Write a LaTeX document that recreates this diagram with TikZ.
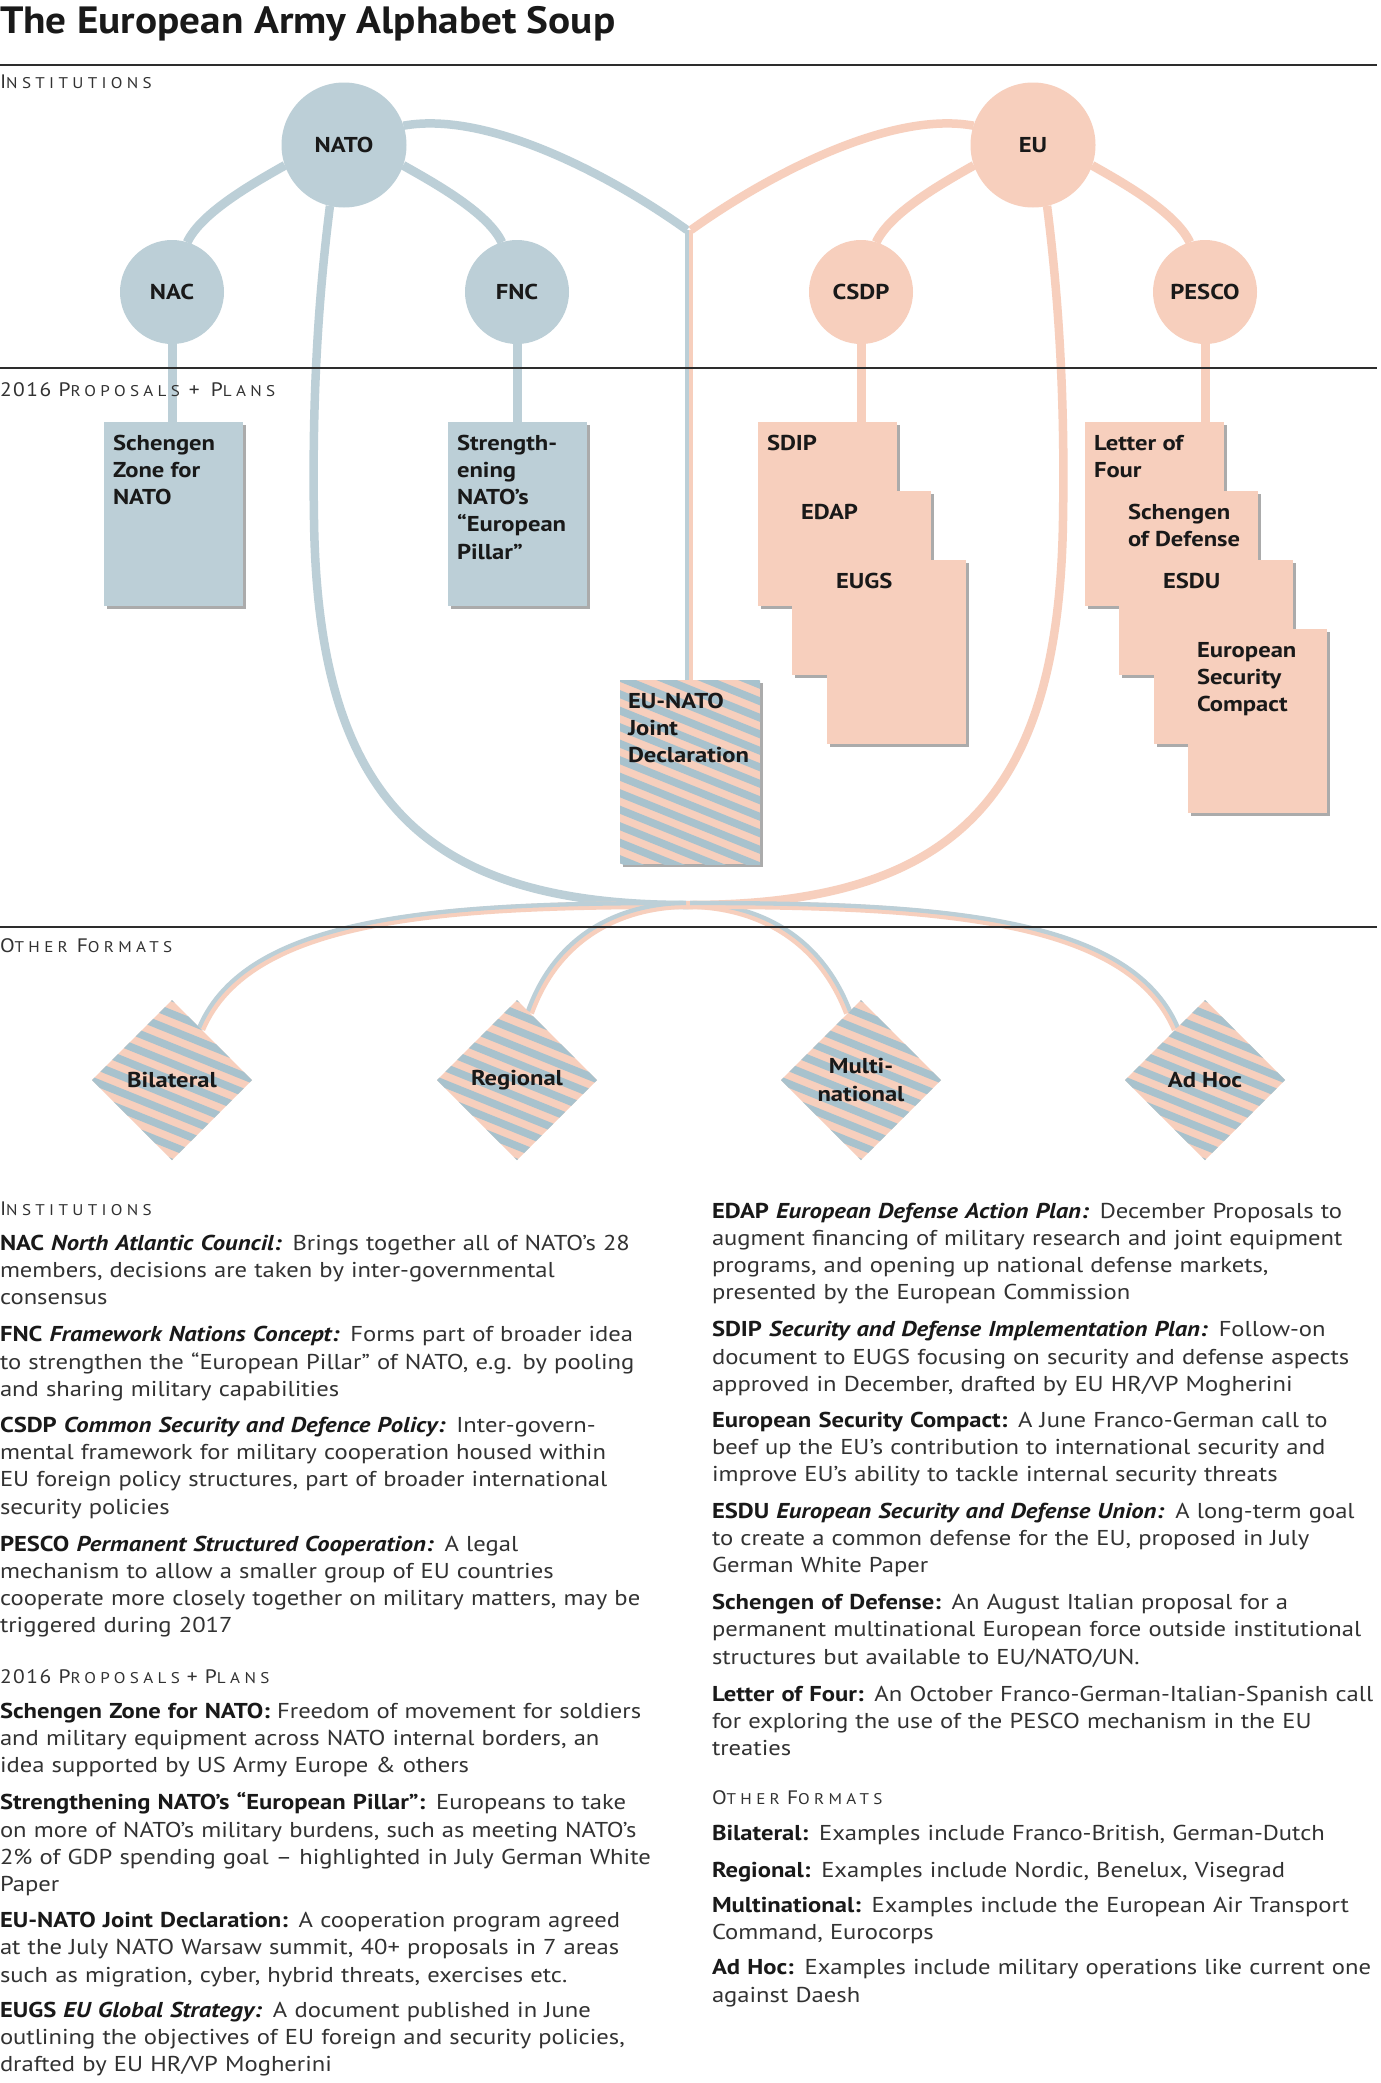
\documentclass[tikz,border=0pt]{standalone}
\usepackage{fontspec}
\setmainfont{PT Sans}[FakeStretch=1.145]
\newfontfamily\titlefont{PT Sans}[FakeStretch=1.085]
\newfontfamily\scfont{PT Sans}[FakeStretch=1.1,LetterSpace=28]
\newfontfamily\digfont{PT Sans}[FakeStretch=1.1,LetterSpace=8]
\usetikzlibrary{shapes.geometric,calc,shadows}
\definecolor{bluec}{RGB}{188,207,215}
\definecolor{stripec}{RGB}{168,194,205}
\definecolor{pinkc}{RGB}{247,207,189}
\definecolor{txtc}{RGB}{50,50,50}
\definecolor{inkc}{RGB}{25,25,25}
\definecolor{rulec}{RGB}{45,45,45}
\pgfdeclarelayer{bg}
\pgfsetlayers{bg,main}
\newcommand\bodyfont{\fontsize{21.5}{27.2}\selectfont}
\newcommand\bigsc{\fontsize{19.5}{19.5}\selectfont}
\newcommand\smsc{\fontsize{15.5}{15.5}\selectfont}
\newcommand\HInst{{\scfont\bigsc I\smsc NSTITUTIONS}}
\newcommand\HProp{{{\digfont\bigsc 2016 }{\scfont\bigsc P\smsc ROPOSALS \bigsc + P\smsc LANS}}}
\newcommand\HOther{{\scfont\bigsc O\smsc THER \bigsc F\smsc ORMATS}}
\newcommand\term[1]{{\color{inkc}\bfseries #1}}
\tikzset{
 bnode/.style={circle,fill=bluec,minimum size=104pt,font=\bodyfont\bfseries,text=inkc},
 pnode/.style={circle,fill=pinkc,minimum size=104pt,font=\bodyfont\bfseries,text=inkc},
 bignode/.style={minimum size=125pt},
 docbox/.style={rectangle,minimum width=139pt,minimum height=184pt,anchor=north west,
   drop shadow={shadow xshift=3pt,shadow yshift=-3pt,fill=black!60,opacity=0.55}},
 docb/.style={docbox,fill=bluec},
 docp/.style={docbox,fill=pinkc},
 doctext/.style={anchor=north west,align=left,font=\bodyfont\bfseries,text=inkc,xshift=9pt,yshift=-13pt},
 stripefill/.style={path picture={\foreach \k in {-16,...,16}{\draw[stripec,line width=7.6pt] ($(path picture bounding box.center)+(-130,\k*16.5-52.5)$) -- ++(260,105);}}},
 dmd/.style={diamond,aspect=1,minimum width=160pt,minimum height=160pt,fill=pinkc,stripefill,align=center,font=\bodyfont\bfseries,text=inkc},
 blline/.style={draw=bluec,line width=9pt},
 pkline/.style={draw=pinkc,line width=9pt},
 blloop/.style={draw=bluec,line width=8.5pt},
 pkloop/.style={draw=pinkc,line width=8.5pt},
 bthin/.style={draw=bluec,line width=4.3pt},
 pthin/.style={draw=pinkc,line width=4.3pt},
 hrule/.style={draw=rulec,line width=2.2pt},
 secl/.style={anchor=base west,text=txtc},
 colt/.style={anchor=base west,text width=700pt,align=left,font=\bodyfont,text=txtc},
}
\begin{document}
\begin{tikzpicture}[x=1pt,y=-1pt,every node/.style={inner sep=0pt,outer sep=0pt}]
\useasboundingbox (0,0) rectangle (1381,2083);

% title and section labels
\node[anchor=base west,font=\titlefont\fontsize{38}{40}\selectfont\bfseries,text=inkc] (title) at (0,33) {The European Army Alphabet Soup};
\node[secl] (sInst) at (0,88) {\HInst};
\node[secl] (sProp) at (0,396) {\HProp};
\node[secl] (sOther) at (0,952) {\HOther};

% institutions
\node[bnode,bignode] (nato) at (344,145) {NATO};
\node[pnode,bignode] (eu) at (1033,145) {EU};
\node[bnode] (nac) at (172,292) {NAC};
\node[bnode] (fnc) at (517,292) {FNC};
\node[pnode] (csdp) at (861,292) {CSDP};
\node[pnode] (pesco) at (1205,292) {PESCO};

% proposals
\node[docb,label={[doctext]north west:{Schengen\\Zone for\\NATO}}] (szn) at (104,422) {};
\node[docb,label={[doctext]north west:{Strength-\\ening\\NATO’s\\“European\\Pillar”}}] (snep) at (448,422) {};
\node[docp,label={[doctext]north west:{SDIP}}] (sdip) at (758,422) {};
\node[docp,label={[doctext]north west:{EDAP}}] (edap) at (792,491) {};
\node[docp,label={[doctext]north west:{EUGS}}] (eugs) at (827,560) {};
\node[docp,label={[doctext]north west:{Letter of\\Four}}] (lof) at (1085,422) {};
\node[docp,label={[doctext]north west:{Schengen\\of Defense}}] (sod) at (1119,491) {};
\node[docp,label={[doctext]north west:{ESDU}}] (esdu) at (1154,560) {};
\node[docp,label={[doctext]north west:{European\\Security\\Compact}}] (esc) at (1188,629) {};
\node[docbox,minimum width=140pt,fill=pinkc,stripefill,label={[doctext,xshift=-1pt]north west:{EU-NATO\\Joint\\Declaration}}] (eunato) at (620,680) {};

% other formats
\node[dmd] (bil) at (172,1080) {Bilateral};
\node[dmd] (reg) at (517,1080) {Regional};
\node[dmd] (mul) at (861,1080) {Multi-\\national};
\node[dmd] (adh) at (1205,1080) {Ad Hoc};

\coordinate (J) at (688,905);
\coordinate (tb) at (687,230);
\coordinate (tp) at (691,230);

\begin{pgfonlayer}{bg}
\fill[white] (0,0) rectangle (1381,2083);
% tree arcs
\draw[blline] (nato.199) .. controls +(-30,17) and +(14,-30) .. (nac.73);
\draw[blline] (nato.341) .. controls +(30,17) and +(-14,-30) .. (fnc.107);
\draw[pkline] (eu.199) .. controls +(-30,17) and +(14,-30) .. (csdp.73);
\draw[pkline] (eu.341) .. controls +(30,17) and +(-14,-30) .. (pesco.107);
% stems
\draw[blline] (nac.south) -- (nac.south |- szn.north);
\draw[blline] (fnc.south) -- (fnc.south |- snep.north);
\draw[pkline] (csdp.south) -- (csdp.south |- sdip.north);
\draw[pkline] (pesco.south) -- (pesco.south |- lof.north);
% arcs to joint declaration
\draw[blloop] (nato.18) .. controls (490,110) and (616,179) .. (tb);
\draw[pkloop] (eu.162) .. controls (888,110) and (762,179) .. (tp);
\draw[bthin] (tb) -- (tb |- eunato.north);
\draw[pthin] (tp) -- (tp |- eunato.north);
% big loops
\draw[blloop] (nato.257) .. controls (318,300) and (312,400) .. (314,520) .. controls (318,800) and (425,905) .. (J);
\draw[pkloop] (eu.283) .. controls (1059,300) and (1065,400) .. (1063,520) .. controls (1059,800) and (952,905) .. (J);
% lines to other formats
\draw[pthin,line width=8pt] (J) .. controls (450,905) and (250,915) .. (bil.60);
\draw[bthin,transform canvas={xshift=-2pt,yshift=2pt}] (J) .. controls (450,905) and (250,915) .. (bil.60);
\draw[pthin,line width=8pt] (J) .. controls (630,905) and (560,930) .. (reg.79);
\draw[bthin,transform canvas={xshift=-2pt,yshift=2pt}] (J) .. controls (630,905) and (560,930) .. (reg.79);
\draw[pthin,line width=8pt] (J) .. controls (746,905) and (816,930) .. (mul.101);
\draw[bthin,transform canvas={xshift=2pt,yshift=2pt}] (J) .. controls (746,905) and (816,930) .. (mul.101);
\draw[pthin,line width=8pt] (J) .. controls (927,905) and (1127,915) .. (adh.120);
\draw[bthin,transform canvas={xshift=2pt,yshift=2pt}] (J) .. controls (927,905) and (1127,915) .. (adh.120);
\end{pgfonlayer}

% rules
\draw[hrule] (0,65) -- (1377,65);
\draw[hrule] (0,368) -- (1377,368);
\draw[hrule] (0,927) -- (1377,927);

% text columns
\node[colt] (leftcol) at (0,1215) {\HInst\\[8pt]
\term{NAC \textit{North Atlantic Council:}} Brings together all of NATO’s 28\\
members, decisions are taken by inter-governmental\\
consensus\\[10pt]
\term{FNC \textit{Framework Nations Concept:}} Forms part of broader idea\\
to strengthen the “European Pillar” of NATO, e.g. by pooling\\
and sharing military capabilities\\[9pt]
\term{CSDP \textit{Common Security and Defence Policy:}} Inter-govern-\\
mental framework for military cooperation housed within\\
EU foreign policy structures, part of broader international\\
security policies\\[10pt]
\term{PESCO \textit{Permanent Structured Cooperation:}} A legal\\
mechanism to allow a smaller group of EU countries\\
cooperate more closely together on military matters, may be\\
triggered during 2017\\[23pt]
\HProp\\[8pt]
\term{Schengen Zone for NATO:} Freedom of movement for soldiers\\
and military equipment across NATO internal borders, an\\
idea supported by US Army Europe \& others\\[10pt]
\term{Strengthening NATO’s “European Pillar”:} Europeans to take\\
on more of NATO’s military burdens, such as meeting NATO’s\\
2\% of GDP spending goal – highlighted in July German White\\
Paper\\[9pt]
\term{EU-NATO Joint Declaration:} A cooperation program agreed\\
at the July NATO Warsaw summit, 40+ proposals in 7 areas\\
such as migration, cyber, hybrid threats, exercises etc.\\[8pt]
\term{EUGS \textit{EU Global Strategy:}} A document published in June\\
outlining the objectives of EU foreign and security policies,\\
drafted by EU HR/VP Mogherini};

\node[colt] (rightcol) at (712,1218) {\term{EDAP \textit{European Defense Action Plan:}} December Proposals to\\
augment financing of military research and joint equipment\\
programs, and opening up national defense markets,\\
presented by the European Commission\\[10pt]
\term{SDIP \textit{Security and Defense Implementation Plan:}} Follow-on\\
document to EUGS focusing on security and defense aspects\\
approved in December, drafted by EU HR/VP Mogherini\\[9pt]
\term{European Security Compact:} A June Franco-German call to\\
beef up the EU’s contribution to international security and\\
improve EU’s ability to tackle internal security threats\\[9pt]
\term{ESDU \textit{European Security and Defense Union:}} A long-term goal\\
to create a common defense for the EU, proposed in July\\
German White Paper\\[10pt]
\term{Schengen of Defense:} An August Italian proposal for a\\
permanent multinational European force outside institutional\\
structures but available to EU/NATO/UN.\\[10pt]
\term{Letter of Four:} An October Franco-German-Italian-Spanish call\\
for exploring the use of the PESCO mechanism in the EU\\
treaties\\[22pt]
\HOther\\[8pt]
\term{Bilateral:} Examples include Franco-British, German-Dutch\\[10pt]
\term{Regional:} Examples include Nordic, Benelux, Visegrad\\[8pt]
\term{Multinational:} Examples include the European Air Transport\\
Command, Eurocorps\\[8pt]
\term{Ad Hoc:} Examples include military operations like current one\\
against Daesh};
\end{tikzpicture}
\end{document}
